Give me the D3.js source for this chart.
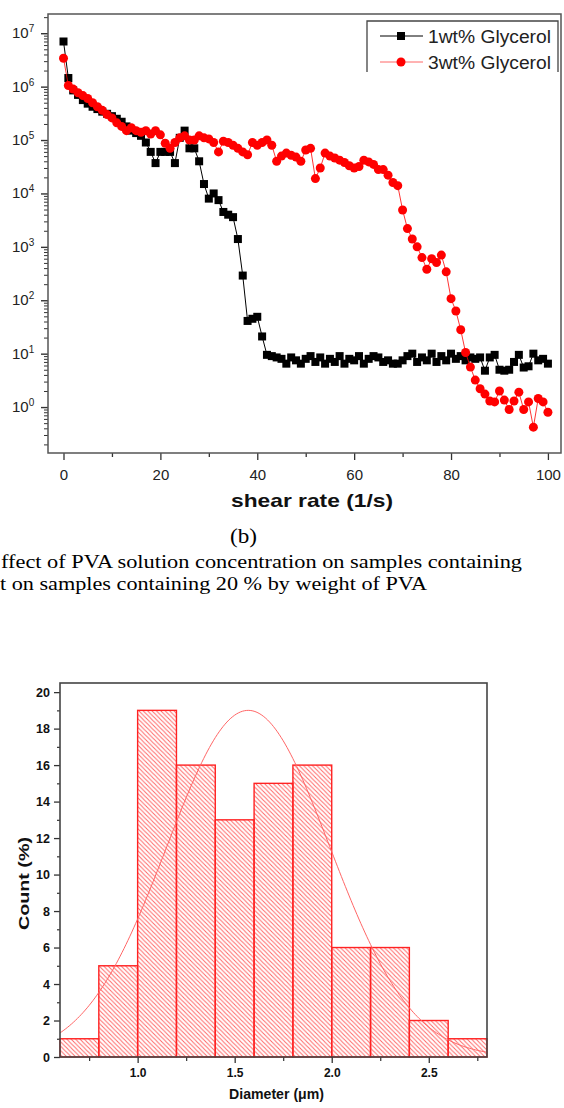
<!DOCTYPE html>
<html>
<head>
<meta charset="utf-8">
<script src="https://cdn.jsdelivr.net/npm/d3@7"></script>
<style>
  body { margin: 0; background: #fff; }
  svg { display: block; }
</style>
</head>
<body>
<script>
((() => {

// ---- data: viscosity vs shear rate (top chart) ----
// one reading per 1/s step, 0..100
let shearRate = d3.range(0, 101);

let glycerol1 = [
  7e6, 1.45e6, 8.5e5, 7e5, 5.6e5, 4.8e5, 4.2e5, 3.8e5, 3.4e5, 3.1e5,
  2.8e5, 2.5e5, 2.2e5, 1.8e5, 1.5e5, 1.35e5, 1.2e5, 9e4, 6e4, 3.7e4,
  6e4, 6e4, 6e4, 3.7e4, 1.1e5, 1.5e5, 7e4, 7e4, 4e4, 1.5e4,
  8e3, 1e4, 7.5e3, 4.5e3, 4e3, 3.6e3, 1.4e3, 290, 41, 45,
  49, 21, 9.5, 9, 8.5, 8, 6.5, 8.5, 7.5, 6.5,
  8, 9, 7, 8.5, 6.5, 8, 7, 9, 6.5, 8,
  7.5, 9, 6.5, 8, 9, 8.5, 7, 7.5, 6.5, 6.5,
  7.5, 9, 10, 7, 8.5, 7.5, 10, 7, 9, 7.5,
  10, 8, 9, 7.5, 8.5, 8, 8.5, 4.8, 8.5, 9.5,
  5, 4.8, 5, 7, 9.5, 5.5, 5.8, 10, 7.5, 8,
  6.5
];

let glycerol3 = [
  3.4e6, 1.05e6, 9e5, 7.7e5, 6.8e5, 6e5, 5e5, 4.2e5, 3.6e5, 3e5,
  2.6e5, 2.1e5, 1.8e5, 1.5e5, 1.7e5, 1.5e5, 1.4e5, 1.5e5, 1.3e5, 1.5e5,
  1.25e5, 8.7e4, 7e4, 9e4, 1.1e5, 1.2e5, 1e5, 1e5, 1.2e5, 1.1e5,
  1.05e5, 9e4, 6e4, 9.5e4, 9e4, 8e4, 7e4, 6e4, 5.3e4, 9e4,
  8e4, 9e4, 1e5, 8e4, 4e4, 5e4, 5.7e4, 5.2e4, 4.8e4, 4e4,
  6.5e4, 7e4, 1.9e4, 3e4, 5.7e4, 5e4, 4.6e4, 4.2e4, 3.8e4, 3.3e4,
  3e4, 3.2e4, 4.2e4, 3.9e4, 3.5e4, 2.8e4, 2.8e4, 2.2e4, 1.6e4, 1.4e4,
  4.9e3, 2.2e3, 1.4e3, 1e3, 630, 380, 600, 510, 700, 340,
  107, 63, 28, 10.5, 5.6, 3.2, 2.2, 1.75, 1.3, 1.25,
  2, 1.35, 0.9, 1.3, 1.9, 0.9, 1.25, 0.42, 1.45, 1.25,
  0.8
];

let seriesNames = ['1wt% Glycerol', '3wt% Glycerol'];
let xTicks1 = [0, 20, 40, 60, 80, 100];
let yExps1 = [0, 1, 2, 3, 4, 5, 6, 7];

// ---- data: diameter histogram (bottom chart) ----
let binStart = [0.6, 0.8, 1.0, 1.2, 1.4, 1.6, 1.8, 2.0, 2.2, 2.4, 2.6];
let binCount = [1, 5, 19, 16, 13, 15, 16, 6, 6, 2, 1];
let binWidth = 0.2;
let xTicks2 = [1.0, 1.5, 2.0, 2.5];
let yTicks2 = [0, 2, 4, 6, 8, 10, 12, 14, 16, 18, 20];
// gaussian fit drawn over the bars
let fitCenter = 1.57, fitSigma = 0.42, fitPeak = 19;

let captionLines = [
  'ffect of PVA solution concentration on samples containing',
  't on samples containing 20 % by weight of PVA'
];

let width = 564, height = 1108;

let svg = d3.select('body')
  .append('svg')
    .attr('width', width)
    .attr('height', height);

let sans = 'Arial, "Liberation Sans", sans-serif';
let serif = '"Times New Roman", "Liberation Serif", serif';

// ================= TOP CHART =================
let x1 = d3.scaleLinear().domain([-3.2, 102.7]).range([48, 561]);
let y1 = d3.scaleLog().domain([Math.pow(10, -0.86), Math.pow(10, 7.36)]).range([453, 14]);

let g1 = svg.append('g');

// minor x ticks
g1.append('g')
  .attr('transform', 'translate(0,453)')
  .call(d3.axisBottom(x1).tickValues([10, 30, 50, 70, 90]).tickSize(4).tickFormat(''))
  .call(g => g.select('.domain').remove())
  .call(g => g.selectAll('line').attr('stroke', '#333').attr('stroke-width', 1.3));

let xAxis1 = g1.append('g')
  .attr('transform', 'translate(0,453)')
  .call(d3.axisBottom(x1).tickValues(xTicks1).tickSize(7).tickPadding(9))
  .call(g => g.select('.domain').remove());
xAxis1.selectAll('line').attr('stroke', '#333').attr('stroke-width', 1.3);
xAxis1.selectAll('text')
  .style('font-family', sans)
  .style('font-size', '15px')
  .attr('fill', '#222');

// y ticks: majors at decades, minors at 2..9
let yMinor = [];
for (let e = -1; e <= 7; e++) {
  for (let m = 2; m <= 9; m++) {
    let v = m * Math.pow(10, e);
    if (v >= y1.domain()[0] && v <= y1.domain()[1]) yMinor.push(v);
  }
}
g1.append('g')
  .attr('transform', 'translate(48,0)')
  .call(d3.axisLeft(y1).tickValues(yMinor).tickSize(4).tickFormat(''))
  .call(g => g.select('.domain').remove())
  .call(g => g.selectAll('line').attr('stroke', '#333').attr('stroke-width', 1));

let yAxis1 = g1.append('g')
  .attr('transform', 'translate(48,0)')
  .call(d3.axisLeft(y1).tickValues(yExps1.map(e => Math.pow(10, e))).tickSize(7).tickFormat(''))
  .call(g => g.select('.domain').remove());
yAxis1.selectAll('line').attr('stroke', '#333').attr('stroke-width', 1.4);

// "10^n" labels
let yLab = g1.selectAll('.ylab')
  .data(yExps1)
  .enter()
  .append('text')
    .attr('class', 'ylab')
    .attr('x', 12)
    .attr('y', d => y1(Math.pow(10, d)) + 5)
    .style('font-family', sans)
    .style('font-size', '15px')
    .attr('fill', '#222');
yLab.append('tspan').text('10');
yLab.append('tspan')
  .attr('dy', -6)
  .style('font-size', '10px')
  .text(d => d);

// frame
g1.append('rect')
  .attr('x', 48)
  .attr('y', 14)
  .attr('width', 561 - 48)
  .attr('height', 453 - 14)
  .attr('fill', 'none')
  .attr('stroke', '#555')
  .attr('stroke-width', 1.5);

// series 1: black squares
let line1 = d3.line()
  .x((d, i) => x1(shearRate[i]))
  .y(d => y1(d));

g1.append('path')
  .datum(glycerol1)
  .attr('d', line1)
  .attr('fill', 'none')
  .attr('stroke', '#000')
  .attr('stroke-width', 1);

g1.selectAll('.sq')
  .data(glycerol1)
  .enter()
  .append('rect')
    .attr('class', 'sq')
    .attr('x', (d, i) => x1(shearRate[i]) - 4)
    .attr('y', d => y1(d) - 4)
    .attr('width', 8)
    .attr('height', 8)
    .attr('fill', '#000');

// series 2: red circles
g1.append('path')
  .datum(glycerol3)
  .attr('d', line1)
  .attr('fill', 'none')
  .attr('stroke', '#f00')
  .attr('stroke-width', 0.8);

g1.selectAll('.dot')
  .data(glycerol3)
  .enter()
  .append('circle')
    .attr('class', 'dot')
    .attr('cx', (d, i) => x1(shearRate[i]))
    .attr('cy', d => y1(d))
    .attr('r', 4.5)
    .attr('fill', '#f00');

// legend (open at the bottom like the original)
g1.append('path')
  .attr('d', 'M367,72 L367,21 L558,21 L558,72')
  .attr('fill', '#fff')
  .attr('stroke', '#444')
  .attr('stroke-width', 1.3);

let legY = [36, 62];
seriesNames.forEach((name, i) => {
  g1.append('line')
    .attr('x1', 380).attr('x2', 423)
    .attr('y1', legY[i]).attr('y2', legY[i])
    .attr('stroke', i === 0 ? '#000' : '#f66')
    .attr('stroke-width', 1);
  if (i === 0) {
    g1.append('rect')
      .attr('x', 397).attr('y', legY[i] - 4)
      .attr('width', 8).attr('height', 8)
      .attr('fill', '#000');
  } else {
    g1.append('circle')
      .attr('cx', 401).attr('cy', legY[i])
      .attr('r', 4.5)
      .attr('fill', '#f00');
  }
  g1.append('text')
    .attr('x', 428)
    .attr('y', legY[i] + 6.5)
    .attr('textLength', 123)
    .attr('lengthAdjust', 'spacingAndGlyphs')
    .style('font-family', sans)
    .style('font-size', '18px')
    .attr('fill', '#222')
    .text(name);
});

// x title
g1.append('text')
  .attr('x', 231)
  .attr('y', 507)
  .attr('textLength', 162)
  .attr('lengthAdjust', 'spacingAndGlyphs')
  .style('font-family', sans)
  .style('font-size', '19px')
  .style('font-weight', 'bold')
  .attr('fill', '#111')
  .text('shear rate (1/s)');

// ================= CAPTION =================
svg.append('text')
  .attr('x', 230)
  .attr('y', 543)
  .attr('textLength', 27)
  .attr('lengthAdjust', 'spacingAndGlyphs')
  .style('font-family', serif)
  .style('font-size', '20px')
  .attr('fill', '#000')
  .text('(b)');

let capX = [1, 0], capY = [568, 590], capW = [521, 427];
captionLines.forEach((t, i) => {
  svg.append('text')
    .attr('x', capX[i])
    .attr('y', capY[i])
    .attr('textLength', capW[i])
    .attr('lengthAdjust', 'spacingAndGlyphs')
    .style('font-family', serif)
    .style('font-size', '18.5px')
    .attr('fill', '#000')
    .text(t);
});

// ================= BOTTOM CHART =================
let x2 = d3.scaleLinear().domain([0.6, 2.8]).range([60, 487]);
let y2 = d3.scaleLinear().domain([0, 20.5]).range([1057, 683]);

let g2 = svg.append('g');

let defs = svg.append('defs');
let hs = 4.4;
defs.append('pattern')
  .attr('id', 'hatch')
  .attr('patternUnits', 'userSpaceOnUse')
  .attr('width', hs)
  .attr('height', hs)
  .append('path')
    .attr('d', `M0,0 L${hs},${hs} M${-hs / 2},${hs / 2} L${hs / 2},${hs * 1.5} M${hs / 2},${-hs / 2} L${hs * 1.5},${hs / 2}`)
    .attr('stroke', '#f66')
    .attr('stroke-width', 1);

// bars
g2.selectAll('.bar')
  .data(binCount)
  .enter()
  .append('rect')
    .attr('class', 'bar')
    .attr('x', (d, i) => x2(binStart[i]))
    .attr('y', d => y2(d))
    .attr('width', (d, i) => x2(binStart[i] + binWidth) - x2(binStart[i]))
    .attr('height', d => y2(0) - y2(d))
    .attr('fill', 'url(#hatch)')
    .attr('stroke', '#f22')
    .attr('stroke-width', 1.4);

// gaussian fit curve
let fitX = d3.range(0.6, 2.8001, 0.01);
g2.append('path')
  .datum(fitX)
  .attr('d', d3.line()
    .x(d => x2(d))
    .y(d => y2(fitPeak * Math.exp(-Math.pow(d - fitCenter, 2) / (2 * fitSigma * fitSigma)))))
  .attr('fill', 'none')
  .attr('stroke', '#f66')
  .attr('stroke-width', 1);

// axes
g2.append('g')
  .attr('transform', 'translate(0,1057)')
  .call(d3.axisBottom(x2).tickValues([0.75, 1.25, 1.75, 2.25, 2.75]).tickSize(4).tickFormat(''))
  .call(g => g.select('.domain').remove())
  .call(g => g.selectAll('line').attr('stroke', '#333').attr('stroke-width', 1.2));

let xAxis2 = g2.append('g')
  .attr('transform', 'translate(0,1057)')
  .call(d3.axisBottom(x2).tickValues(xTicks2).tickSize(6).tickPadding(5).tickFormat(d3.format('.1f')))
  .call(g => g.select('.domain').remove());
xAxis2.selectAll('line').attr('stroke', '#333').attr('stroke-width', 1.3);
xAxis2.selectAll('text')
  .style('font-family', sans)
  .style('font-size', '12px')
  .style('font-weight', 'bold')
  .attr('fill', '#111');

g2.append('g')
  .attr('transform', 'translate(60,0)')
  .call(d3.axisLeft(y2).tickValues(d3.range(1, 20, 2)).tickSize(3).tickFormat(''))
  .call(g => g.select('.domain').remove())
  .call(g => g.selectAll('line').attr('stroke', '#333').attr('stroke-width', 1.2));

let yAxis2 = g2.append('g')
  .attr('transform', 'translate(60,0)')
  .call(d3.axisLeft(y2).tickValues(yTicks2).tickSize(6).tickPadding(4))
  .call(g => g.select('.domain').remove());
yAxis2.selectAll('line').attr('stroke', '#333').attr('stroke-width', 1.3);
yAxis2.selectAll('text')
  .style('font-family', sans)
  .style('font-size', '12.5px')
  .style('font-weight', 'bold')
  .attr('fill', '#111');

g2.append('rect')
  .attr('x', 60)
  .attr('y', 683)
  .attr('width', 487 - 60)
  .attr('height', 1057 - 683)
  .attr('fill', 'none')
  .attr('stroke', '#444')
  .attr('stroke-width', 1.6);

// axis titles
g2.append('text')
  .attr('x', 229)
  .attr('y', 1099)
  .attr('textLength', 95)
  .attr('lengthAdjust', 'spacingAndGlyphs')
  .style('font-family', sans)
  .style('font-size', '15px')
  .style('font-weight', 'bold')
  .attr('fill', '#111')
  .text('Diameter (\u03bcm)');

g2.append('text')
  .attr('transform', 'translate(28.5,930) rotate(-90)')
  .attr('x', 0)
  .attr('y', 0)
  .attr('textLength', 93)
  .attr('lengthAdjust', 'spacingAndGlyphs')
  .style('font-family', sans)
  .style('font-size', '15px')
  .style('font-weight', 'bold')
  .attr('fill', '#111')
  .text('Count (%)');

})());
</script>
</body>
</html>
